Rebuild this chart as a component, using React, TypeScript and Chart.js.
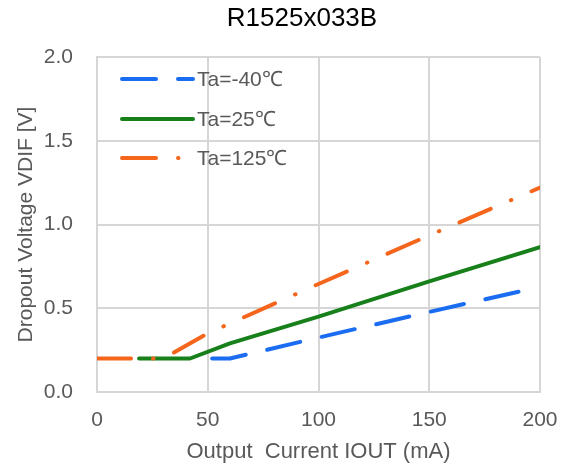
import React, { useEffect, useRef } from "react";
import { Chart, registerables } from "chart.js";

Chart.register(...registerables);

const chartTitle = "R1525x033B";
const xAxisTitle = "Output  Current IOUT (mA)";
const yAxisTitle = "Dropout Voltage VDIF [V]";

const seriesLabels = ["Ta=-40\u2103", "Ta=25\u2103", "Ta=125\u2103"];

const currentM40 = [52, 60, 100, 150, 194];
const vdifM40 = [0.2, 0.2, 0.325, 0.478, 0.61];

const current25 = [19, 42, 60, 100, 150, 200];
const vdif25 = [0.2, 0.2, 0.29, 0.45, 0.66, 0.865];

const current125 = [0, 30, 50, 100, 150, 200];
const vdif125 = [0.2, 0.2, 0.35, 0.645, 0.935, 1.22];

const xTicks = [0, 50, 100, 150, 200];
const yTicks = [0, 0.5, 1.0, 1.5, 2.0];

const FONT = "'Liberation Sans', Arial, sans-serif";

const toPoints = (xs: number[], ys: number[]) => xs.map((x, i) => ({ x, y: ys[i] }));

const titlePlugin = {
  id: "customTitle",
  afterDraw(chart: any) {
    const ctx = chart.ctx;
    ctx.save();
    ctx.font = `26px ${FONT}`;
    ctx.fillStyle = "#000000";
    ctx.textAlign = "center";
    ctx.textBaseline = "middle";
    ctx.fillText(chartTitle, 302, 19);
    ctx.restore();
  },
};

const legendPlugin = {
  id: "customLegend",
  afterDatasetsDraw(chart: any) {
    const ctx = chart.ctx;
    const area = chart.chartArea;
    const x0 = area.left + 25;
    const x1 = area.left + 96;
    const tx = area.left + 100;
    const rows = [area.top + 22, area.top + 62, area.top + 101];
    ctx.save();
    chart.data.datasets.forEach((ds: any, i: number) => {
      const y = rows[i];
      ctx.beginPath();
      ctx.setLineDash(ds.borderDash || []);
      ctx.lineCap = "round";
      ctx.lineWidth = ds.borderWidth;
      ctx.strokeStyle = ds.borderColor;
      ctx.moveTo(x0, y);
      ctx.lineTo(x1, y);
      ctx.stroke();
      ctx.setLineDash([]);
      ctx.font = `21px ${FONT}`;
      ctx.fillStyle = "#595959";
      ctx.textAlign = "left";
      ctx.textBaseline = "middle";
      ctx.fillText(ds.label, tx, y + 1);
    });
    ctx.restore();
  },
};

export default function App() {
  const canvasRef = useRef<HTMLCanvasElement | null>(null);

  useEffect(() => {
    if (!canvasRef.current) return;
    const chart = new Chart(canvasRef.current, {
      type: "line",
      data: {
        datasets: [
          {
            label: seriesLabels[0],
            data: toPoints(currentM40, vdifM40),
            borderColor: "#1a6cf0",
            borderWidth: 4,
            borderDash: [34, 22],
            borderCapStyle: "round",
            borderJoinStyle: "round",
            pointRadius: 0,
            tension: 0,
            fill: false,
            order: 2,
          },
          {
            label: seriesLabels[1],
            data: toPoints(current25, vdif25),
            borderColor: "#17801b",
            borderWidth: 4,
            borderCapStyle: "round",
            borderJoinStyle: "round",
            pointRadius: 0,
            tension: 0,
            fill: false,
            order: 1,
          },
          {
            label: seriesLabels[2],
            data: toPoints(current125, vdif125),
            borderColor: "#f5661c",
            borderWidth: 4,
            borderDash: [34, 22, 0.5, 22],
            borderCapStyle: "round",
            borderJoinStyle: "round",
            pointRadius: 0,
            tension: 0,
            fill: false,
            order: 0,
          },
        ],
      },
      options: {
        animation: false,
        responsive: true,
        maintainAspectRatio: false,
        layout: { padding: { top: 57, left: 0, right: 29, bottom: 3 } },
        plugins: {
          legend: { display: false },
          title: { display: false },
          tooltip: { enabled: false },
        },
        scales: {
          x: {
            type: "linear",
            min: xTicks[0],
            max: xTicks[xTicks.length - 1],
            afterBuildTicks: (scale: any) => {
              scale.ticks = xTicks.map((v) => ({ value: v }));
            },
            afterFit: (scale: any) => {
              scale.height = 73;
              scale.paddingLeft = 0;
              scale.paddingRight = 0;
            },
            ticks: {
              padding: 16,
              color: "#595959",
              font: { family: FONT, size: 21 },
              maxRotation: 0,
              callback: (v: any) => String(v),
            },
            grid: { color: "#d6d6d6", lineWidth: 2, drawTicks: false },
            border: { color: "#d6d6d6", width: 2 },
            title: {
              display: true,
              text: xAxisTitle,
              color: "#595959",
              font: { family: FONT, size: 22 },
              padding: { top: 0, bottom: 0 },
            },
          },
          y: {
            type: "linear",
            min: yTicks[0],
            max: yTicks[yTicks.length - 1],
            afterBuildTicks: (scale: any) => {
              scale.ticks = yTicks.map((v) => ({ value: v }));
            },
            afterFit: (scale: any) => {
              scale.width = 97;
            },
            ticks: {
              padding: 24,
              color: "#595959",
              font: { family: FONT, size: 21 },
              callback: (v: any) => Number(v).toFixed(1),
            },
            grid: { color: "#d6d6d6", lineWidth: 2, drawTicks: false },
            border: { color: "#d6d6d6", width: 2 },
            title: {
              display: true,
              text: yAxisTitle,
              color: "#595959",
              font: { family: FONT, size: 21 },
              padding: { top: 14, bottom: 0 },
            },
          },
        },
      },
      plugins: [titlePlugin, legendPlugin],
    } as any);
    return () => chart.destroy();
  }, []);

  return (
    <div style={{ position: "absolute", left: 0, top: 0, width: 569, height: 468, background: "#ffffff" }}>
      <canvas ref={canvasRef} />
    </div>
  );
}
